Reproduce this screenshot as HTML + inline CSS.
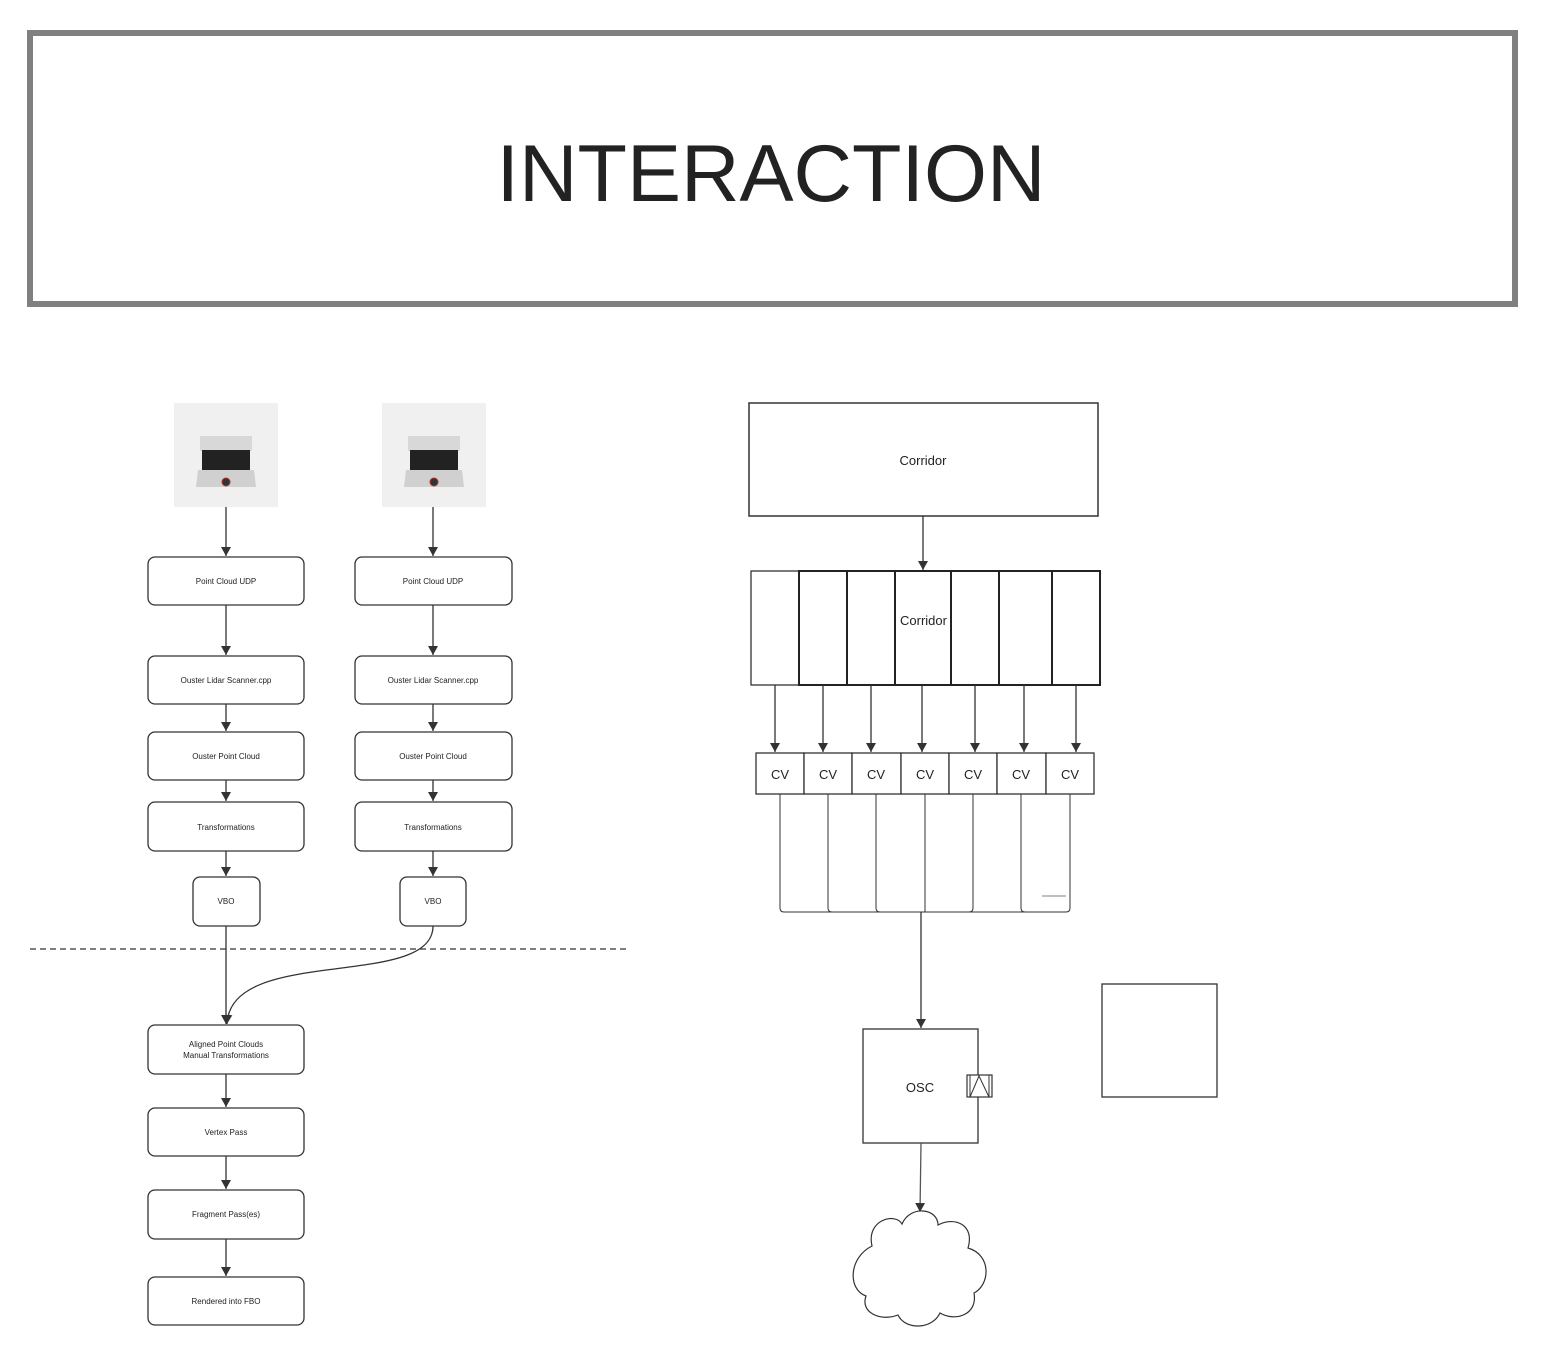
<!DOCTYPE html>
<html><head><meta charset="utf-8"><style>
html,body{margin:0;padding:0;background:#fff;}
svg{display:block;}
text{font-family:"Liberation Sans",sans-serif;fill:#222;}
</style></head><body>
<svg width="1546" height="1372" viewBox="0 0 1546 1372" xmlns="http://www.w3.org/2000/svg">
<defs>
<marker id="a" markerWidth="10" markerHeight="10" refX="9" refY="5" orient="auto" markerUnits="userSpaceOnUse">
<path d="M0,0 L9,5 L0,10 z" fill="#333"/>
</marker>
<g id="lidar">
<rect x="0" y="0" width="104" height="104" fill="#f0f0f0"/>
<rect x="26" y="33" width="52" height="15" fill="#d8d8d8"/>
<rect x="28" y="47" width="48" height="20" fill="#222"/>
<path d="M24,67 L80,67 L82,84 L22,84 z" fill="#d0d0d0"/>
<circle cx="52" cy="79" r="4" fill="#333" stroke="#a33" stroke-width="1"/>
</g>
</defs>

<rect x="30" y="33" width="1485" height="271" fill="#fff" stroke="#808080" stroke-width="6"/>
<text x="771" y="201" font-size="81" text-anchor="middle" fill="#1a1a1a">INTERACTION</text>

<use href="#lidar" x="174" y="403"/>
<use href="#lidar" x="382" y="403"/>

<g fill="#fff" stroke="#333" stroke-width="1.3">
<rect x="148" y="557" width="156" height="48" rx="7"/>
<rect x="355" y="557" width="157" height="48" rx="7"/>
<rect x="148" y="656" width="156" height="48" rx="7"/>
<rect x="355" y="656" width="157" height="48" rx="7"/>
<rect x="148" y="732" width="156" height="48" rx="7"/>
<rect x="355" y="732" width="157" height="48" rx="7"/>
<rect x="148" y="802" width="156" height="49" rx="7"/>
<rect x="355" y="802" width="157" height="49" rx="7"/>
<rect x="193" y="877" width="67" height="49" rx="7"/>
<rect x="400" y="877" width="66" height="49" rx="7"/>
<rect x="148" y="1025" width="156" height="49" rx="7"/>
<rect x="148" y="1108" width="156" height="48" rx="7"/>
<rect x="148" y="1190" width="156" height="49" rx="7"/>
<rect x="148" y="1277" width="156" height="48" rx="7"/>
</g>
<g font-size="8" text-anchor="middle">
<text x="226" y="584">Point Cloud UDP</text>
<text x="433" y="584">Point Cloud UDP</text>
<text x="226" y="683">Ouster Lidar Scanner.cpp</text>
<text x="433" y="683">Ouster Lidar Scanner.cpp</text>
<text x="226" y="759">Ouster Point Cloud</text>
<text x="433" y="759">Ouster Point Cloud</text>
<text x="226" y="830">Transformations</text>
<text x="433" y="830">Transformations</text>
<text x="226" y="904">VBO</text>
<text x="433" y="904">VBO</text>
<text x="226" y="1047">Aligned Point Clouds</text>
<text x="226" y="1058">Manual Transformations</text>
<text x="226" y="1135">Vertex Pass</text>
<text x="226" y="1217">Fragment Pass(es)</text>
<text x="226" y="1304">Rendered into FBO</text>
</g>

<g stroke="#333" stroke-width="1.3" fill="none" marker-end="url(#a)">
<line x1="226" y1="507" x2="226" y2="556"/>
<line x1="433" y1="507" x2="433" y2="556"/>
<line x1="226" y1="605" x2="226" y2="655"/>
<line x1="433" y1="605" x2="433" y2="655"/>
<line x1="226" y1="704" x2="226" y2="731"/>
<line x1="433" y1="704" x2="433" y2="731"/>
<line x1="226" y1="780" x2="226" y2="801"/>
<line x1="433" y1="780" x2="433" y2="801"/>
<line x1="226" y1="851" x2="226" y2="876"/>
<line x1="433" y1="851" x2="433" y2="876"/>
<line x1="226" y1="926" x2="226" y2="1024"/>
<path d="M433,926 C433,990 230,945 227,1024"/>
<line x1="226" y1="1074" x2="226" y2="1107"/>
<line x1="226" y1="1156" x2="226" y2="1189"/>
<line x1="226" y1="1239" x2="226" y2="1276"/>
</g>
<line x1="30" y1="949" x2="628" y2="949" stroke="#333" stroke-width="1.2" stroke-dasharray="6,4"/>

<rect x="749" y="403" width="349" height="113" fill="#fff" stroke="#333" stroke-width="1.5"/>
<text x="923" y="465" font-size="13" text-anchor="middle">Corridor</text>
<line x1="923" y1="516" x2="923" y2="570" stroke="#333" stroke-width="1.3" marker-end="url(#a)"/>

<g fill="#fff" stroke="#222" stroke-width="1.5">
<rect x="751" y="571" width="48" height="114" stroke-width="1.2"/>
<rect x="799" y="571" width="48" height="114" stroke-width="2"/>
<rect x="847" y="571" width="48" height="114" stroke-width="2"/>
<rect x="895" y="571" width="56" height="114" stroke-width="2"/>
<rect x="951" y="571" width="48" height="114" stroke-width="2"/>
<rect x="999" y="571" width="53" height="114" stroke-width="2"/>
<rect x="1052" y="571" width="48" height="114" stroke-width="2"/>
</g>
<text x="900" y="625" font-size="13">Corridor</text>

<g stroke="#333" stroke-width="1.3" marker-end="url(#a)">
<line x1="775" y1="685" x2="775" y2="752"/>
<line x1="823" y1="685" x2="823" y2="752"/>
<line x1="871" y1="685" x2="871" y2="752"/>
<line x1="922" y1="685" x2="922" y2="752"/>
<line x1="975" y1="685" x2="975" y2="752"/>
<line x1="1024" y1="685" x2="1024" y2="752"/>
<line x1="1076" y1="685" x2="1076" y2="752"/>
</g>
<g fill="#fff" stroke="#333" stroke-width="1.3">
<rect x="756" y="753" width="48" height="41"/>
<rect x="804" y="753" width="48" height="41"/>
<rect x="852" y="753" width="49" height="41"/>
<rect x="901" y="753" width="48" height="41"/>
<rect x="949" y="753" width="48" height="41"/>
<rect x="997" y="753" width="49" height="41"/>
<rect x="1046" y="753" width="48" height="41"/>
</g>
<g font-size="13" text-anchor="middle">
<text x="780" y="779">CV</text><text x="828" y="779">CV</text><text x="876" y="779">CV</text>
<text x="925" y="779">CV</text><text x="973" y="779">CV</text><text x="1021" y="779">CV</text><text x="1070" y="779">CV</text>
</g>
<g stroke="#333" stroke-width="1" fill="none">
<path d="M780,794 V908 Q780,912 784,912 H1066 Q1070,912 1070,908 V794"/>
<path d="M828,794 V908 Q828,912 832,912"/>
<path d="M876,794 V908 Q876,912 880,912"/>
<path d="M925,794 V912"/>
<path d="M973,794 V908 Q973,912 969,912"/>
<path d="M1021,794 V908 Q1021,912 1025,912"/>
</g>
<line x1="1042" y1="896" x2="1066" y2="896" stroke="#999" stroke-width="1.2"/>
<line x1="921" y1="912" x2="921" y2="1028" stroke="#333" stroke-width="1.3" marker-end="url(#a)"/>

<rect x="863" y="1029" width="115" height="114" fill="#fff" stroke="#333" stroke-width="1.3"/>
<text x="920" y="1092" font-size="13" text-anchor="middle">OSC</text>
<rect x="967" y="1075" width="25" height="22" fill="#fff" stroke="#333" stroke-width="1.2"/>
<path d="M970,1075 V1097 M989,1075 V1097 M970,1097 L979,1076 L989,1097" stroke="#333" fill="none" stroke-width="1"/>

<rect x="1102" y="984" width="115" height="113" fill="#fff" stroke="#333" stroke-width="1.3"/>

<line x1="921" y1="1143" x2="920" y2="1212" stroke="#555" stroke-width="1.3" marker-end="url(#a)"/>
<path d="M872,1246 C866,1220 895,1212 902,1224 C910,1205 938,1208 938,1225 C955,1216 975,1225 968,1248 C992,1255 990,1285 974,1293 C978,1315 955,1322 940,1313 C932,1330 905,1330 898,1315 C880,1322 860,1312 866,1296 C848,1290 848,1258 872,1246 z" fill="#fff" stroke="#333" stroke-width="1.2"/>
</svg>
</body></html>
